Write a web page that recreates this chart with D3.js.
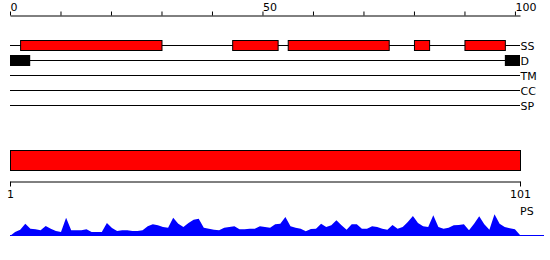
<!DOCTYPE html>
<html>
<head>
<meta charset="utf-8">
<script src="https://cdn.jsdelivr.net/npm/d3@7"></script>
<style>
    body { margin: 0; background: #fff; }
    svg text { font-family: "DejaVu Sans", sans-serif; font-size: 11px; fill: #000; }
</style>
</head>
<body>
<div id="chart"></div>
<script>
// feature tracks, top to bottom
const tracks = ["SS", "D", "TM", "CC", "SP"];

// secondary structure segments (start, end) on the 0-101 ruler
const ssSegments = [[2, 30], [44, 53], [55, 75], [80, 83], [90, 98]];

// disordered regions
const disorderSegments = [[0, 4], [98, 101]];

// top ruler
const topTicks = [0, 10, 20, 30, 40, 50, 60, 70, 80, 90, 100];
const topLabels = [0, 50, 100];

// bottom ruler (residues)
const bottomTicks = [1, 101];

// PS profile, one value per residue 1..101
const psValues = [
    0, 4, 6.3, 12.3, 7.3, 6.7, 5.7, 10, 7.3, 5,
    4, 18.3, 5.7, 5.7, 5.7, 6.7, 4, 4, 4, 13,
    8, 5, 5.7, 5.7, 5, 5, 5.7, 9.7, 11.7, 10.7,
    9, 8.3, 18.3, 12.3, 9, 13, 16.3, 17.3, 8.3, 7.3,
    6.3, 5.7, 8.3, 9, 9.7, 6.7, 6.7, 7.3, 7.3, 9.7,
    9, 8.3, 11.7, 12.3, 19, 9.7, 8.3, 7.3, 4.7, 7,
    7.3, 12.3, 9, 10.7, 15.7, 10.7, 6.3, 11.7, 11.7, 7.3,
    7.3, 9.7, 9, 7.3, 6.3, 11, 7.3, 9, 14, 20,
    13, 9.7, 9, 20.7, 9, 7.3, 8.3, 10.7, 11, 11.7,
    5.7, 12.3, 19.7, 11.7, 6.3, 21.7, 12.3, 9, 7.7, 6.7,
    1
];

class ProteinViz {
    constructor(parentElement) {
        this.parentElement = parentElement;
        this.width = 550;
        this.height = 260;
    }

    initViz() {
        let vis = this;

        vis.svg = d3.select("#" + vis.parentElement).append("svg")
            .attr("width", vis.width)
            .attr("height", vis.height);

        // both rulers span the same pixels
        vis.x = d3.scaleLinear().domain([0, 101]).range([10, 520]);
        vis.xRes = d3.scaleLinear().domain([1, 101]).range([10, 520]);

        vis.trackY = d3.scalePoint().domain(tracks).range([45, 105]);

        vis.drawRuler();
        vis.drawTracks();
        vis.drawSequence();
        vis.drawProfile();
    }

    drawRuler() {
        let vis = this;

        let axis = d3.axisTop(vis.x)
            .tickValues(topTicks)
            .tickSize(4)
            .tickSizeOuter(0)
            .tickFormat(d => topLabels.includes(d) ? d : "");

        let g = vis.svg.append("g")
            .attr("transform", "translate(0,15.5)")
            .call(axis);

        g.select(".domain").attr("stroke", "#000");
        g.selectAll(".tick line").attr("stroke", "#000");
        g.selectAll(".tick text")
            .attr("text-anchor", "start")
            .attr("x", 0)
            .attr("y", -5)
            .attr("dy", 0)
            .style("font-family", "DejaVu Sans")
            .style("font-size", "11px")
            .attr("fill", "#000");
    }

    drawTracks() {
        let vis = this;

        vis.svg.selectAll(".track-line")
            .data(tracks)
            .enter()
            .append("line")
            .attr("class", "track-line")
            .attr("x1", vis.x(0))
            .attr("x2", vis.x(101))
            .attr("y1", d => vis.trackY(d) + 0.5)
            .attr("y2", d => vis.trackY(d) + 0.5)
            .attr("stroke", "#000")
            .attr("stroke-width", 1);

        vis.svg.selectAll(".track-label")
            .data(tracks)
            .enter()
            .append("text")
            .attr("class", "track-label")
            .attr("x", vis.x(101) + 0.5)
            .attr("y", d => vis.trackY(d) + 4.5)
            .text(d => d);

        // secondary structure boxes
        vis.svg.selectAll(".ss-box")
            .data(ssSegments)
            .enter()
            .append("rect")
            .attr("class", "ss-box")
            .attr("x", d => vis.x(d[0]) + 0.5)
            .attr("width", d => vis.x(d[1]) - vis.x(d[0]))
            .attr("y", vis.trackY("SS") - 4.5)
            .attr("height", 10)
            .attr("fill", "#ff0000")
            .attr("stroke", "#000");

        // disorder boxes
        vis.svg.selectAll(".d-box")
            .data(disorderSegments)
            .enter()
            .append("rect")
            .attr("class", "d-box")
            .attr("x", d => vis.x(d[0]))
            .attr("width", d => vis.x(d[1]) - vis.x(d[0]))
            .attr("y", vis.trackY("D") - 5)
            .attr("height", 11)
            .attr("fill", "#000");
    }

    drawSequence() {
        let vis = this;

        vis.svg.append("rect")
            .attr("x", vis.xRes(1) + 0.5)
            .attr("y", 150.5)
            .attr("width", vis.xRes(101) - vis.xRes(1))
            .attr("height", 20)
            .attr("fill", "#ff0000")
            .attr("stroke", "#000");

        let axis = d3.axisBottom(vis.xRes)
            .tickValues(bottomTicks)
            .tickSize(5)
            .tickSizeOuter(0);

        let g = vis.svg.append("g")
            .attr("transform", "translate(0,181.5)")
            .call(axis);

        g.select(".domain").attr("stroke", "#000");
        g.selectAll(".tick line").attr("stroke", "#000");
        g.selectAll(".tick text")
            .attr("y", 9)
            .attr("dy", "0.71em")
            .style("font-family", "DejaVu Sans")
            .style("font-size", "11px")
            .attr("fill", "#000");
    }

    drawProfile() {
        let vis = this;

        vis.y = d3.scaleLinear().domain([0, 22]).range([236, 214]);

        let area = d3.area()
            .x((d, i) => vis.xRes(i + 1))
            .y0(vis.y(0))
            .y1(d => vis.y(d));

        vis.svg.append("path")
            .datum(psValues)
            .attr("d", area)
            .attr("fill", "#0000ff");

        vis.svg.append("line")
            .attr("x1", vis.xRes(1))
            .attr("x2", 544)
            .attr("y1", vis.y(0) - 0.5)
            .attr("y2", vis.y(0) - 0.5)
            .attr("stroke", "#0000ff");

        vis.svg.append("text")
            .attr("x", vis.xRes(101))
            .attr("y", 215)
            .text("PS");
    }
}

let viz = new ProteinViz("chart");
viz.initViz();
</script>
</body>
</html>
